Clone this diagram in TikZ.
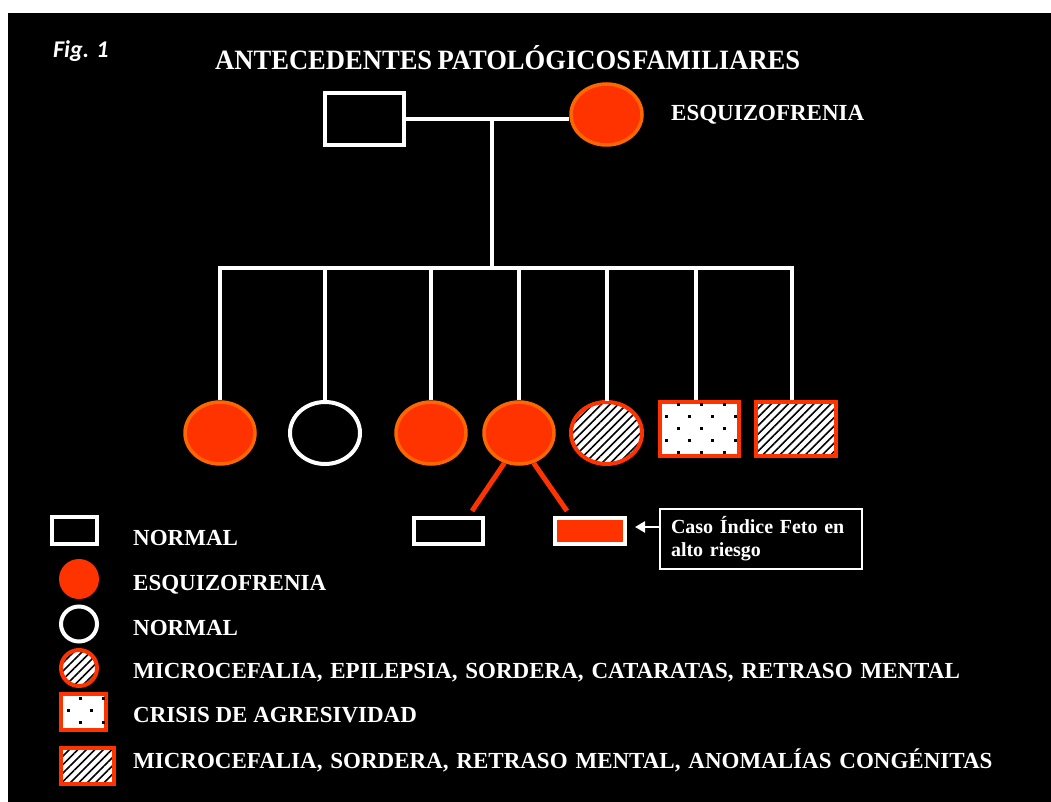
\documentclass[tikz,border=0pt]{standalone}
\usepackage{fontspec}
\usepackage{graphicx}
\setmainfont{Liberation Serif}
\newfontfamily\figfont{Carlito}
\usetikzlibrary{patterns.meta,arrows.meta,shapes.geometric}
\definecolor{redf}{HTML}{FF3300}
\definecolor{orng}{HTML}{FF6600}
\newcommand\dotgrid[4]{%
  \foreach \r in {0,...,#4}{%
    \foreach \c in {-1,...,#3}{%
      \pgfmathsetmacro\xx{#1+23*\c-11.5*mod(\r,2)}%
      \pgfmathsetmacro\yy{#2+12*\r}%
      \fill[black] (\xx-1.5,\yy-1.5) rectangle ++(3,3);
    }}}
\newcommand\widesp{\spaceskip=7.9pt plus 1pt\relax}
\begin{document}
\begin{tikzpicture}[x=1pt,y=-1pt,
  lbl/.style={anchor=base west, inner sep=0pt, text=white, font=\fontsize{23}{26}\selectfont\bfseries, execute at begin node=\widesp},
  wbox/.style={rectangle, draw=white, line width=4pt, inner sep=0pt},
  wcirc/.style={ellipse, draw=white, line width=4pt, inner sep=0pt},
  rcirc/.style={ellipse, draw=orng, fill=redf, line width=3.5pt, inner sep=0pt},
  hatch/.style={preaction={fill=white}, pattern={Lines[angle=45,distance=6pt,line width=1.6pt]}},
  hcirc/.style={ellipse, draw=redf, line width=4pt, inner sep=0pt, hatch},
  hbox/.style={rectangle, draw=redf, line width=4pt, inner sep=0pt, hatch},
  dbox/.style={rectangle, draw=redf, fill=white, line width=4pt, inner sep=0pt},
  ped/.style={draw=white, line width=4pt},
  redl/.style={draw=redf, line width=5pt}]
\useasboundingbox (0,0) rectangle (1051,802);
\fill[white] (0,0) rectangle (1051,802);
\fill[black] (8,13) rectangle (1051,802);

% headings
\node[anchor=base west, inner sep=0pt, text=white] (fig) at (53,58)
  {\figfont\fontsize{24}{28}\selectfont\bfseries\itshape Fig. 1};
\node[anchor=base west, inner sep=0pt, text=white] (title) at (215,70)
  {\resizebox{585pt}{\height}{\fontsize{28}{32}\selectfont\bfseries ANTECEDENTES\hspace{0.2em}PATOLÓGICOS\hspace{0.05em}FAMILIARES}};

% parents
\node[wbox, minimum width=79pt, minimum height=52pt] (father) at (364.5,119) {};
\node[rcirc, minimum width=71pt, minimum height=61pt] (mother) at (606.5,114.5) {};
\node[lbl] (mlab) at (671,121) {ESQUIZOFRENIA};
\coordinate (mid) at (492,119);
\coordinate (sib) at (492,268);
\draw[ped] (father.east) -- (mother.west |- father.east);
\draw[ped] (mid) -- (sib);

% children
\node[rcirc, minimum width=70pt, minimum height=62pt] (c1) at (220,433) {};
\node[wcirc, minimum width=70pt, minimum height=62pt] (c2) at (325,433) {};
\node[rcirc, minimum width=70pt, minimum height=62pt] (c3) at (431,433) {};
\node[rcirc, minimum width=70pt, minimum height=62pt] (c4) at (519,433) {};
\node[hcirc, minimum width=71pt, minimum height=62pt] (c5) at (606.5,433) {};
\node[dbox, minimum width=79pt, minimum height=54pt] (c6) at (699.5,429) {};
\begin{scope}
  \clip ([xshift=2pt,yshift=2pt]c6.south west) rectangle ([xshift=-2pt,yshift=-2pt]c6.north east);
  \dotgrid{678}{404}{4}{5}
\end{scope}
\node[hbox, minimum width=80pt, minimum height=54pt] (c7) at (796,429) {};

\draw[ped, line cap=rect] (c1.north |- sib) -- ([xshift=-4pt]c7.north |- sib);
\draw[ped] (c1.north) -- (c1.north |- sib);
\draw[ped] (c2.north) -- (c2.north |- sib);
\draw[ped] (c3.north) -- (c3.north |- sib);
\draw[ped] (c4.north) -- (c4.north |- sib);
\draw[ped] (c5.north) -- (c5.north |- sib);
\draw[ped] ([xshift=-4pt]c6.north) -- ([xshift=-4pt]c6.north |- sib);
\draw[ped] ([xshift=-4pt]c7.north) -- ([xshift=-4pt]c7.north |- sib);

% grandchildren
\node[wbox, minimum width=69pt, minimum height=26pt] (g1) at (448.5,531) {};
\node[wbox, fill=redf, minimum width=70pt, minimum height=26pt] (g2) at (590,531) {};
\draw[redl] (c4.244) -- ([xshift=23.5pt,yshift=5pt]g1.north);
\draw[redl] (c4.296) -- ([xshift=-23pt,yshift=5pt]g2.north);

% index case note
\node[rectangle, draw=white, line width=1.5pt, fill=black, minimum width=202pt, minimum height=60pt,
      inner sep=0pt, text width=180pt, align=left, text=white,
      font=\fontsize{20}{23}\selectfont\bfseries] (caso) at (761,539)
  {Caso Índice Feto en\\alto riesgo};
\coordinate (arrtip) at (635,527);
\draw[draw=white, line width=2.5pt, -{Triangle[length=10pt,width=11pt]}] ([yshift=12pt]caso.west) -- (arrtip);

% legend
\node[wbox, minimum width=45pt, minimum height=27pt] (l1) at (74.5,530.5) {};
\node[lbl] (t1) at (133,545) {NORMAL};
\node[circle, fill=redf, minimum size=40pt, inner sep=0pt] (l2) at (79,579) {};
\node[lbl] (t2) at (133,590) {ESQUIZOFRENIA};
\node[wcirc, minimum width=36pt, minimum height=35pt] (l3) at (79,624) {};
\node[lbl] (t3) at (133,635) {NORMAL};
\node[hcirc, minimum width=36pt, minimum height=36pt] (l4) at (79,668) {};
\node[lbl] (t4) at (133,678) {MICROCEFALIA, EPILEPSIA, SORDERA, CATARATAS, RETRASO MENTAL};
\node[dbox, minimum width=45pt, minimum height=36pt] (l5) at (83.5,712) {};
\begin{scope}
  \clip ([xshift=2pt,yshift=2pt]l5.south west) rectangle ([xshift=-2pt,yshift=-2pt]l5.north east);
  \dotgrid{80}{698}{2}{3}
\end{scope}
\node[lbl] (t5) at (133,722) {\spaceskip=0pt CRISIS DE AGRESIVIDAD};
\node[hbox, minimum width=53pt, minimum height=36pt] (l6) at (87.5,766) {};
\node[lbl] (t6) at (133,768) {MICROCEFALIA, SORDERA, RETRASO MENTAL, ANOMALÍAS CONGÉNITAS};
\end{tikzpicture}
\end{document}
